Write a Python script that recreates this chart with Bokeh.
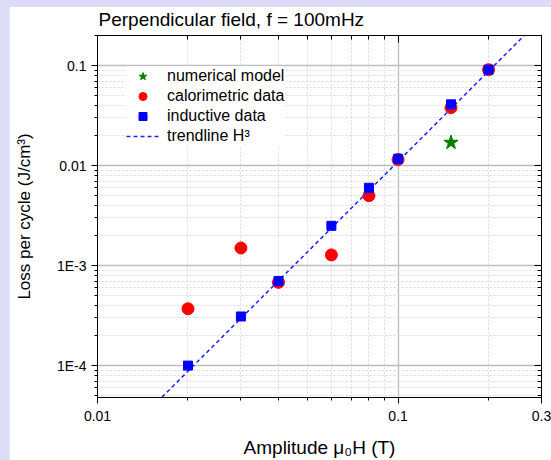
from bokeh.plotting import figure
from bokeh.models import (LogAxis, FixedTicker, CustomJSTickFormatter, Legend, LegendItem)
from bokeh.embed import file_html
from bokeh.resources import INLINE

# ---- data ----
num_x = [0.15]
num_y = [0.017]

cal_x = [0.02, 0.03, 0.04, 0.06, 0.08, 0.1, 0.15, 0.2]
cal_y = [3.7e-4, 1.5e-3, 6.8e-4, 1.28e-3, 5.0e-3, 0.0115, 0.038, 0.091]

ind_x = [0.02, 0.03, 0.04, 0.06, 0.08, 0.1, 0.15, 0.2]
ind_y = [1.0e-4, 3.1e-4, 7.0e-4, 2.5e-3, 6.0e-3, 0.0117, 0.041, 0.091]

trend_x = [0.01, 0.3]
trend_y = [1.1e-5, 0.297]

x_tick_values = [0.01, 0.1, 0.3]
x_tick_labels = ["0.01", "0.1", "0.3"]
x_minor_ticks = [0.02, 0.03, 0.04, 0.05, 0.06, 0.07, 0.08, 0.09, 0.2]

y_tick_values = [1e-4, 1e-3, 1e-2, 0.1]
y_tick_labels = ["1E-4", "1E-3", "0.01", "0.1"]
y_minor_ticks = [m * d for d in [1e-5, 1e-4, 1e-3, 1e-2, 0.1] for m in range(2, 10)]

TITLE = "Perpendicular field, f = 100mHz"
FONT = "Liberation Sans"
LAVENDER = "#dcdcf7"

p = figure(width=542, height=460, x_axis_type="log", y_axis_type="log",
           x_range=(0.01, 0.3), y_range=(4.8e-5, 0.2),
           output_backend="svg", toolbar_location=None,
           min_border_left=88, min_border_right=10, min_border_top=35, min_border_bottom=63,
           background_fill_color="white", border_fill_color="white",
           outline_line_color="black", outline_line_width=1)

p.title.text = TITLE
p.title.text_font = FONT
p.title.text_font_size = "19px"
p.title.text_font_style = "normal"
p.title.text_color = "black"
p.title.align = "left"
p.title.offset = 1
p.title.standoff = 11
p.title.text_line_height = 0.6

fmt_code = """
let best = 0, bd = 1e9;
for (let i = 0; i < vals.length; i++) {
  const d = Math.abs(Math.log10(vals[i]) - Math.log10(tick));
  if (d < bd) { bd = d; best = i; }
}
return bd < 1e-6 ? labels[best] : "";
"""
xfmt = CustomJSTickFormatter(args=dict(vals=x_tick_values, labels=x_tick_labels), code=fmt_code)
yfmt = CustomJSTickFormatter(args=dict(vals=y_tick_values, labels=y_tick_labels), code=fmt_code)
blank = CustomJSTickFormatter(code="return '';")

xticker = FixedTicker(ticks=x_tick_values, minor_ticks=x_minor_ticks)
yticker = FixedTicker(ticks=y_tick_values, minor_ticks=y_minor_ticks)

def style_axis(ax, outward):
    ax.axis_line_color = "black"
    ax.axis_line_width = 1
    ax.major_tick_line_color = "black"
    ax.minor_tick_line_color = "black"
    if outward:
        ax.major_tick_out = 6
        ax.major_tick_in = 0
        ax.minor_tick_out = 3
        ax.minor_tick_in = 0
    else:
        ax.major_tick_out = 0
        ax.major_tick_in = 7
        ax.minor_tick_out = 0
        ax.minor_tick_in = 4
    ax.major_label_text_font = FONT
    ax.major_label_text_font_size = "14px"
    ax.major_label_text_color = "black"

xa = p.xaxis[0]
xa.ticker = xticker
xa.formatter = xfmt
style_axis(xa, True)
xa.major_label_standoff = 7
xa.axis_label = "Amplitude \u03bc\u2080H (T)"
xa.axis_label_text_font = FONT
xa.axis_label_text_font_size = "19px"
xa.axis_label_text_font_style = "normal"
xa.axis_label_text_color = "black"
xa.axis_label_standoff = 13

ya = p.yaxis[0]
ya.ticker = yticker
ya.formatter = yfmt
style_axis(ya, True)
ya.major_label_standoff = 5
ya.axis_label = "Loss per cycle (J/cm\u00b3)"
ya.axis_label_text_font = FONT
ya.axis_label_text_font_size = "17px"
ya.axis_label_text_font_style = "normal"
ya.axis_label_text_color = "black"
ya.axis_label_standoff = 20

top = LogAxis(ticker=xticker, formatter=blank)
style_axis(top, False)
top.major_label_standoff = 0
p.add_layout(top, "above")

right = LogAxis(ticker=yticker, formatter=blank)
style_axis(right, False)
right.major_label_standoff = 0
p.add_layout(right, "right")

# grids
for g in (p.xgrid[0], p.ygrid[0]):
    g.grid_line_color = "#bdbdbd"
    g.grid_line_width = 1.3
    g.minor_grid_line_color = "#d9d9d9"
    g.minor_grid_line_dash = "2 2"
    g.minor_grid_line_width = 1
p.xgrid[0].ticker = xticker
p.ygrid[0].ticker = yticker

r_num = p.scatter(num_x, num_y, marker="star", size=15, color="#008000")
r_cal = p.scatter(cal_x, cal_y, marker="circle", size=12, color="#ff0000")
r_trend = p.line(trend_x, trend_y, line_color="#2020ff", line_width=1.5, line_dash="4 3")
r_ind = p.scatter(ind_x, ind_y, marker="square", size=9, color="#0000ff")

legend = Legend(items=[
    LegendItem(label="numerical model", renderers=[r_num]),
    LegendItem(label="calorimetric data", renderers=[r_cal]),
    LegendItem(label="inductive data", renderers=[r_ind]),
    LegendItem(label="trendline H\u00b3", renderers=[r_trend]),
], location=(29, 251))
legend.label_text_font = FONT
legend.label_text_font_size = "16px"
legend.label_text_color = "black"
legend.border_line_color = None
legend.background_fill_color = "white"
legend.background_fill_alpha = 1
legend.padding = 10
legend.margin = 0
legend.spacing = 0
legend.glyph_width = 33
legend.glyph_height = 20
legend.label_height = 20
legend.label_standoff = 8
p.add_layout(legend, "center")

html = file_html(p, INLINE)
css = ("<style>html, body {margin:0 !important; background:%s !important;} "
       "body {padding:0 0 0 9px !important;} "
       "body::before {content:''; position:fixed; left:0; top:0; right:0; height:7px; "
       "background:%s; z-index:1000;}</style></head>") % (LAVENDER, LAVENDER)
html = html.replace("</head>", css, 1)
open("out.html", "w").write(html)
